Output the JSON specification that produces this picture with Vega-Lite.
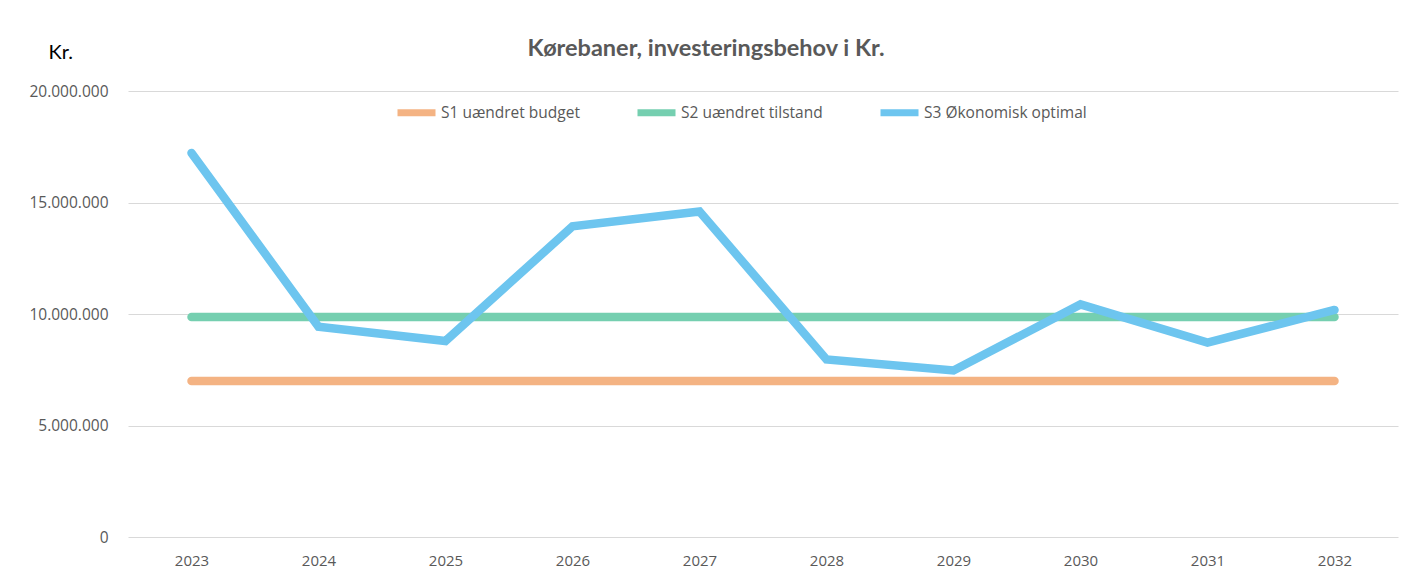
{
  "$schema": "https://vega.github.io/schema/vega-lite/v6.json",
  "autosize": {"type": "none"},
  "width": 1270,
  "height": 446,
  "padding": {"left": 128, "top": 91, "right": 25, "bottom": 34},
  "background": "white",
  "title": {
    "text": "Kørebaner, investeringsbehov i Kr.",
    "font": "Lato",
    "fontWeight": "bold",
    "fontSize": 23.5,
    "color": "#595959",
    "anchor": "middle",
    "dx": -57,
    "baseline": "alphabetic",
    "offset": -37
  },
  "data": {
    "values": [
      {"year": "2023", "series": "S1 uændret budget", "value": 7000000},
      {"year": "2024", "series": "S1 uændret budget", "value": 7000000},
      {"year": "2025", "series": "S1 uændret budget", "value": 7000000},
      {"year": "2026", "series": "S1 uændret budget", "value": 7000000},
      {"year": "2027", "series": "S1 uændret budget", "value": 7000000},
      {"year": "2028", "series": "S1 uændret budget", "value": 7000000},
      {"year": "2029", "series": "S1 uændret budget", "value": 7000000},
      {"year": "2030", "series": "S1 uændret budget", "value": 7000000},
      {"year": "2031", "series": "S1 uændret budget", "value": 7000000},
      {"year": "2032", "series": "S1 uændret budget", "value": 7000000},
      {"year": "2023", "series": "S2 uændret tilstand", "value": 9870000},
      {"year": "2024", "series": "S2 uændret tilstand", "value": 9870000},
      {"year": "2025", "series": "S2 uændret tilstand", "value": 9870000},
      {"year": "2026", "series": "S2 uændret tilstand", "value": 9870000},
      {"year": "2027", "series": "S2 uændret tilstand", "value": 9870000},
      {"year": "2028", "series": "S2 uændret tilstand", "value": 9870000},
      {"year": "2029", "series": "S2 uændret tilstand", "value": 9870000},
      {"year": "2030", "series": "S2 uændret tilstand", "value": 9870000},
      {"year": "2031", "series": "S2 uændret tilstand", "value": 9870000},
      {"year": "2032", "series": "S2 uændret tilstand", "value": 9870000},
      {"year": "2023", "series": "S3 Økonomisk optimal", "value": 17220000},
      {"year": "2024", "series": "S3 Økonomisk optimal", "value": 9430000},
      {"year": "2025", "series": "S3 Økonomisk optimal", "value": 8790000},
      {"year": "2026", "series": "S3 Økonomisk optimal", "value": 13930000},
      {"year": "2027", "series": "S3 Økonomisk optimal", "value": 14600000},
      {"year": "2028", "series": "S3 Økonomisk optimal", "value": 7960000},
      {"year": "2029", "series": "S3 Økonomisk optimal", "value": 7470000},
      {"year": "2030", "series": "S3 Økonomisk optimal", "value": 10430000},
      {"year": "2031", "series": "S3 Økonomisk optimal", "value": 8720000},
      {"year": "2032", "series": "S3 Økonomisk optimal", "value": 10180000}
    ]
  },
  "mark": {"type": "line", "strokeWidth": 8.5, "strokeCap": "round", "strokeJoin": "miter"},
  "encoding": {
    "x": {
      "field": "year",
      "type": "ordinal",
      "scale": {"type": "point", "padding": 0.5},
      "axis": {
        "title": null,
        "domain": false,
        "ticks": false,
        "grid": false,
        "labelAngle": 0,
        "labelPadding": 16,
        "labelFont": "Open Sans",
        "labelFontSize": 15,
        "labelColor": "#595959"
      }
    },
    "y": {
      "field": "value",
      "type": "quantitative",
      "scale": {"domain": [0, 20000000], "nice": false},
      "axis": {
        "values": [0, 5000000, 10000000, 15000000, 20000000],
        "format": ",d",
        "domain": false,
        "ticks": false,
        "grid": true,
        "gridColor": "#d9d9d9",
        "gridWidth": 1,
        "labelPadding": 20,
        "labelFont": "Open Sans",
        "labelFontSize": 15.5,
        "labelColor": "#595959",
        "title": "Kr.",
        "titleAngle": 0,
        "titleAlign": "left",
        "titleBaseline": "alphabetic",
        "titleX": -80,
        "titleY": -33,
        "titleFont": "Lato",
        "titleFontSize": 20,
        "titleFontWeight": "normal",
        "titleColor": "#000000"
      }
    },
    "color": {
      "field": "series",
      "type": "nominal",
      "scale": {
        "domain": ["S1 uændret budget", "S2 uændret tilstand", "S3 Økonomisk optimal"],
        "range": ["#F4B383", "#75CFB0", "#6DC5EF"]
      },
      "legend": {
        "title": null,
        "orient": "none",
        "direction": "horizontal",
        "columns": 3,
        "legendX": 266,
        "legendY": -1,
        "symbolType": "stroke",
        "symbolStrokeWidth": 7,
        "symbolSize": 1444,
        "labelOffset": 2,
        "columnPadding": 43,
        "labelFont": "Open Sans",
        "labelFontSize": 15.5,
        "labelColor": "#595959",
        "labelLimit": 400
      }
    }
  },
  "config": {
    "view": {"stroke": null},
    "locale": {
      "number": {"decimal": ",", "thousands": ".", "grouping": [3], "currency": ["", " kr."]}
    }
  }
}
